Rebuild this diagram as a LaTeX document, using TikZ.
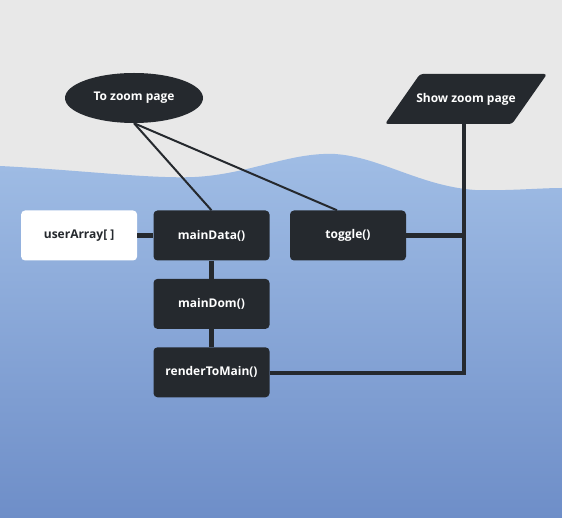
\documentclass[tikz,border=0pt]{standalone}
\usepackage{fontspec}
\setmainfont{Open Sans}
\usetikzlibrary{positioning,shapes.geometric}

\definecolor{skygray}{HTML}{E8E8E8}
\definecolor{wavetop}{HTML}{A0BDE5}
\definecolor{wavebottom}{HTML}{6E8EC8}
\definecolor{boxdark}{HTML}{25292E}

\begin{document}
\begin{tikzpicture}[
        x=1pt, y=-1pt,
        every node/.style={font=\fontsize{12}{14}\selectfont\bfseries, text=white},
        funcbox/.style={draw=none, fill=boxdark, rounded corners=4pt,
          minimum width=116pt, minimum height=50pt},
        databox/.style={funcbox, fill=white, text=boxdark},
        link/.style={draw=boxdark, line width=2pt},
        wire/.style={draw=boxdark, line width=4.5pt}
      ]
      % Background and wave
      \useasboundingbox (0,0) rectangle (562,518);
      \fill[skygray] (0,0) rectangle (562,518);
      \shade[top color=wavetop, bottom color=wavebottom]
        (0,166) .. controls (80,170) and (150,179) .. (195,177)
        .. controls (250,174) and (290,152) .. (335,154)
        .. controls (380,157) and (420,186) .. (475,190)
        .. controls (510,191) and (540,188) .. (562,188)
        -- (562,518) -- (0,518) -- cycle;

      % Top row
      \node[ellipse, fill=boxdark, minimum width=138pt, minimum height=50pt] (zoom) at (134,98) {To zoom page};
      % parallelogram drawn behind its label
      \fill[boxdark, rounded corners=3pt] (420,74) -- (547,74) -- (512,124) -- (385,124) -- cycle;
      \node[minimum width=127pt, minimum height=50pt, inner sep=0pt] (show) at (466,99) {Show zoom page};

      % Functions
      \node[funcbox] (data) at (211.5,235.5) {mainData()};
      \node[databox, left=16pt of data] (users) {userArray[ ]};
      \node[funcbox] (toggle) at (348,235.5) {toggle()};
      \node[funcbox, below=18pt of data] (dom) {mainDom()};
      \node[funcbox, below=18pt of dom] (render) {renderToMain()};
      \coordinate (turn) at (464,373);

      % Connectors
      \draw[link] (zoom.south) -- (data.north);
      \draw[link] (zoom.south) -- ([xshift=-11pt]toggle.north);
      \draw[wire] (users) -- (data);
      \draw[wire] (data) -- (dom);
      \draw[wire] (dom) -- (render);
      \draw[wire] (toggle.east) -- (toggle.east -| turn);
      \draw[wire] (render.east |- turn) -- (turn) -- (turn |- show.south);

    \end{tikzpicture}
\end{document}
